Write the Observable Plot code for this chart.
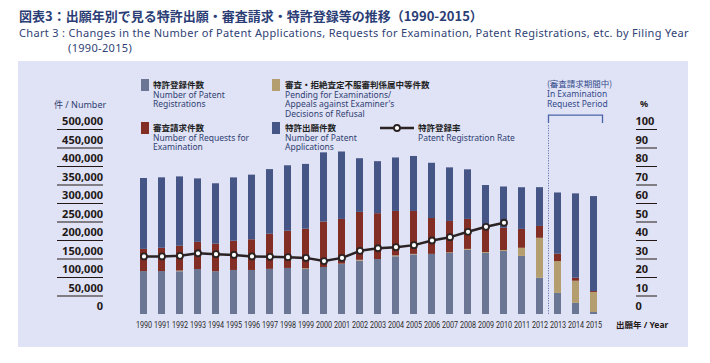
<!DOCTYPE html>
<html><head><meta charset="utf-8">
<script src="https://cdn.jsdelivr.net/npm/d3@7"></script>
<script src="https://cdn.jsdelivr.net/npm/@observablehq/plot@0.6"></script>
<style>
body{margin:0;background:#fff;}
#wrap{position:relative;width:710px;height:363px;overflow:hidden;font-family:"Noto Sans",sans-serif;}
.abs{position:absolute;white-space:nowrap;}
#panel{position:absolute;left:18px;top:61px;width:670px;height:286px;background:#e0e2f5;}
#title{left:19px;top:8px;font:bold 13px/16px "Noto Sans CJK JP",sans-serif;color:#2b3d75;}
.sub{font:11px/15px "Noto Sans","Noto Sans CJK JP",sans-serif;color:#2f4275;letter-spacing:0.33px;}
.sw{position:absolute;width:8px;height:12px;}
.lg{position:absolute;font:8.5px/9.7px "Noto Sans",sans-serif;color:#2f3f72;white-space:nowrap;}
.lg .jp{font-family:"Noto Sans CJK JP",sans-serif;color:#222;font-weight:bold;}
#plot{position:absolute;left:0;top:0;}
#plot svg g[aria-label="y-axis tick label"]{font-family:"Noto Sans",sans-serif;font-size:11px;font-weight:bold;fill:#231815;}
</style></head><body><div id="wrap">
<div id="panel"></div>
<div id="title" class="abs">図表3：出願年別で見る特許出願・審査請求・特許登録等の推移（1990-2015）</div>
<div class="abs sub" style="left:19px;top:25px">Chart 3 : Changes in the Number of Patent Applications, Requests for Examination, Patent Registrations, etc. by Filing Year</div>
<div class="abs sub" style="left:68px;top:40px">(1990-2015)</div>

<div class="sw" style="left:141px;top:79px;background:#6b7694"></div>
<div class="lg" style="left:153px;top:80px"><span class="jp">特許登録件数</span><br>Number of Patent<br>Registrations</div>
<div class="sw" style="left:272px;top:79px;background:#b49e6f"></div>
<div class="lg" style="left:285px;top:80px"><span class="jp">審査・拒絶査定不服審判係属中等件数</span><br>Pending for Examinations/<br>Appeals against Examiner's<br>Decisions of Refusal</div>
<div class="sw" style="left:141px;top:122px;background:#822e24"></div>
<div class="lg" style="left:153px;top:123px"><span class="jp">審査請求件数</span><br>Number of Requests for<br>Examination</div>
<div class="sw" style="left:272px;top:122px;background:#455585"></div>
<div class="lg" style="left:285px;top:123px"><span class="jp">特許出願件数</span><br>Number of Patent<br>Applications</div>
<svg class="abs" style="left:380px;top:122px" width="34" height="12"><line x1="0" y1="6" x2="34" y2="6" stroke="#2b2323" stroke-width="2.5"/><circle cx="17" cy="6" r="3" fill="#fff" stroke="#2b2323" stroke-width="1.8"/></svg>
<div class="lg" style="left:418px;top:123px"><span class="jp">特許登録率</span><br>Patent Registration Rate</div>

<div class="lg" style="left:547px;top:78px;line-height:10px;color:#334a8a"><span style="font-family:'Noto Sans CJK JP'">(審査請求期間中)</span><br>In Examination<br>Request Period</div>
<div class="lg" style="left:54px;top:100px;font-size:9px;color:#2f3f72"><span style="font-family:'Noto Sans CJK JP'">件</span> / Number</div>
<div class="lg" style="left:640px;top:99px;font-size:9px;color:#231815;font-weight:bold">%</div>
<div class="lg" style="left:616px;top:320px;font-size:8.5px;color:#231815;font-weight:bold"><span style="font-family:'Noto Sans CJK JP'">出願年</span> / Year</div>
<div id="plot"></div>
</div>
<script>
const years = ["1990","1991","1992","1993","1994","1995","1996","1997","1998","1999","2000","2001","2002","2003","2004","2005","2006","2007","2008","2009","2010","2011","2012","2013","2014","2015"];
const applications = [367590,369396,371894,366486,353301,369215,376615,391572,401932,405655,436865,439175,421044,413092,423081,427078,408674,396291,391002,348596,344598,342610,342796,328436,325989,318721];
const requests = [176000,179000,184500,195000,190000,198000,202000,217000,225000,230500,250000,257000,276000,272500,278500,278500,259500,251500,257000,230000,233000,230000,238000,163000,98000,62000];
const registrations = [116000,116000,115500,121500,115500,119000,119000,122000,124500,121500,127000,135000,144000,148500,156000,161000,162500,165000,173500,165000,170500,157000,98000,57000,30000,5500];
const pending = [0,0,2000,0,0,0,0,0,0,2000,0,1000,2500,0,2500,1500,0,1500,2500,2500,2500,22000,108000,86000,60000,54000];
const rateYears = years.slice(0, 21);
const rates = [31.4,31.4,31.7,33.1,32.6,32.2,31.4,31.2,31.0,30.6,28.9,30.6,34.4,35.8,36.4,37.5,40.0,41.8,44.7,47.4,49.6];
const leftTicks = [0,50000,100000,150000,200000,250000,300000,350000,400000,450000,500000];
const rightTicks = [0,10,20,30,40,50,60,70,80,90,100];
const periodYears = ["2013","2015"];

const colors = {reg:"#6b7694", pend:"#b49e6f", req:"#822e24", app:"#455585"};
const rows = years.map((year,i)=>({year, reg:registrations[i], pend:pending[i], req:requests[i], app:applications[i]}));
const rateRows = rateYears.map((year,i)=>({year, rate:rates[i]}));
const pct = 500000/100;

const bracket = (index, scales) => {
  const x = scales.x;
  const bw = x.bandwidth ? x.bandwidth() : 0;
  const st = x.step ? x.step() : (x("1991") - x("1990"));
  const xl = x(periodYears[0]) + bw/2 - st/2;
  const xr = x(periodYears[1]) + bw/2 + st/2;
  const yT = scales.y(537500), yS = scales.y(516000), yD = scales.y(510000), y0 = scales.y(0);
  const g = d3.create("svg:g");
  g.append("path").attr("d", `M${xl},${yS}V${yT}H${xr}V${yS}`).attr("fill","none").attr("stroke","#4a64a8").attr("stroke-width",1.3);
  g.append("line").attr("x1",xl).attr("x2",xl).attr("y1",yD).attr("y2",y0).attr("stroke","#4a64a8").attr("stroke-width",1).attr("stroke-dasharray","1,1.5");
  return g.node();
};

const chart = Plot.plot({
  width: 710, height: 363,
  marginLeft: 126, marginRight: 98.4, marginTop: 129, marginBottom: 49,
  x: {type: "band", domain: years, padding: 0.6},
  y: {domain: [0, 500000]},
  style: {background: "transparent", overflow: "visible"},
  marks: [
    Plot.barY(rows, {x: "year", y1: 0, y2: "reg", fill: colors.reg}),
    Plot.barY(rows, {x: "year", y1: "reg", y2: d => d.reg + d.pend, fill: colors.pend}),
    Plot.barY(rows, {x: "year", y1: d => d.reg + d.pend, y2: "req", fill: colors.req}),
    Plot.barY(rows, {x: "year", y1: "req", y2: "app", fill: colors.app}),
    bracket,
    Plot.line(rateRows, {x: "year", y: d => d.rate * pct, stroke: "#2b2323", strokeWidth: 2.5}),
    Plot.dot(rateRows, {x: "year", y: d => d.rate * pct, r: 3, fill: "white", stroke: "#2b2323", strokeWidth: 1.8}),
    Plot.axisX({tickSize: 0, tickPadding: 7, label: null}),
    Plot.axisY({anchor: "left", ticks: leftTicks.slice(1), tickSize: 46, dx: -23, tickFormat: () => "", label: null, stroke: "#231815"}),
    Plot.axisY({anchor: "left", ticks: leftTicks, tickSize: 0, tickPadding: 23.5, dy: -8, tickFormat: d3.format(","), label: null}),
    Plot.axisY({anchor: "right", ticks: rightTicks.slice(1).map(v => v * pct), tickSize: 21, dx: 23.4, tickFormat: () => "", label: null, stroke: "#231815"}),
    Plot.axisY({anchor: "right", ticks: rightTicks.map(v => v * pct), tickSize: 0, tickPadding: 23.4, dy: -8, tickFormat: d => d / pct, label: null})
  ]
});
d3.select(chart).selectAll('g[aria-label="x-axis tick label"]')
  .style("font-family", "Roboto, sans-serif").style("font-size", "9.5px").style("font-weight", "normal").style("fill", "#2a2a2a");
const sx = 0.76;
d3.select(chart).selectAll('g[aria-label="x-axis tick label"] text').each(function() {
  const t = this.getAttribute("transform");
  if (t) {
    this.setAttribute("transform", t + ` scale(${sx},1)`);
  } else {
    const x = +(this.getAttribute("x") || 0);
    this.setAttribute("x", x / sx);
    this.setAttribute("transform", `scale(${sx},1)`);
  }
});
document.getElementById("plot").appendChild(chart);
</script>
</body></html>
